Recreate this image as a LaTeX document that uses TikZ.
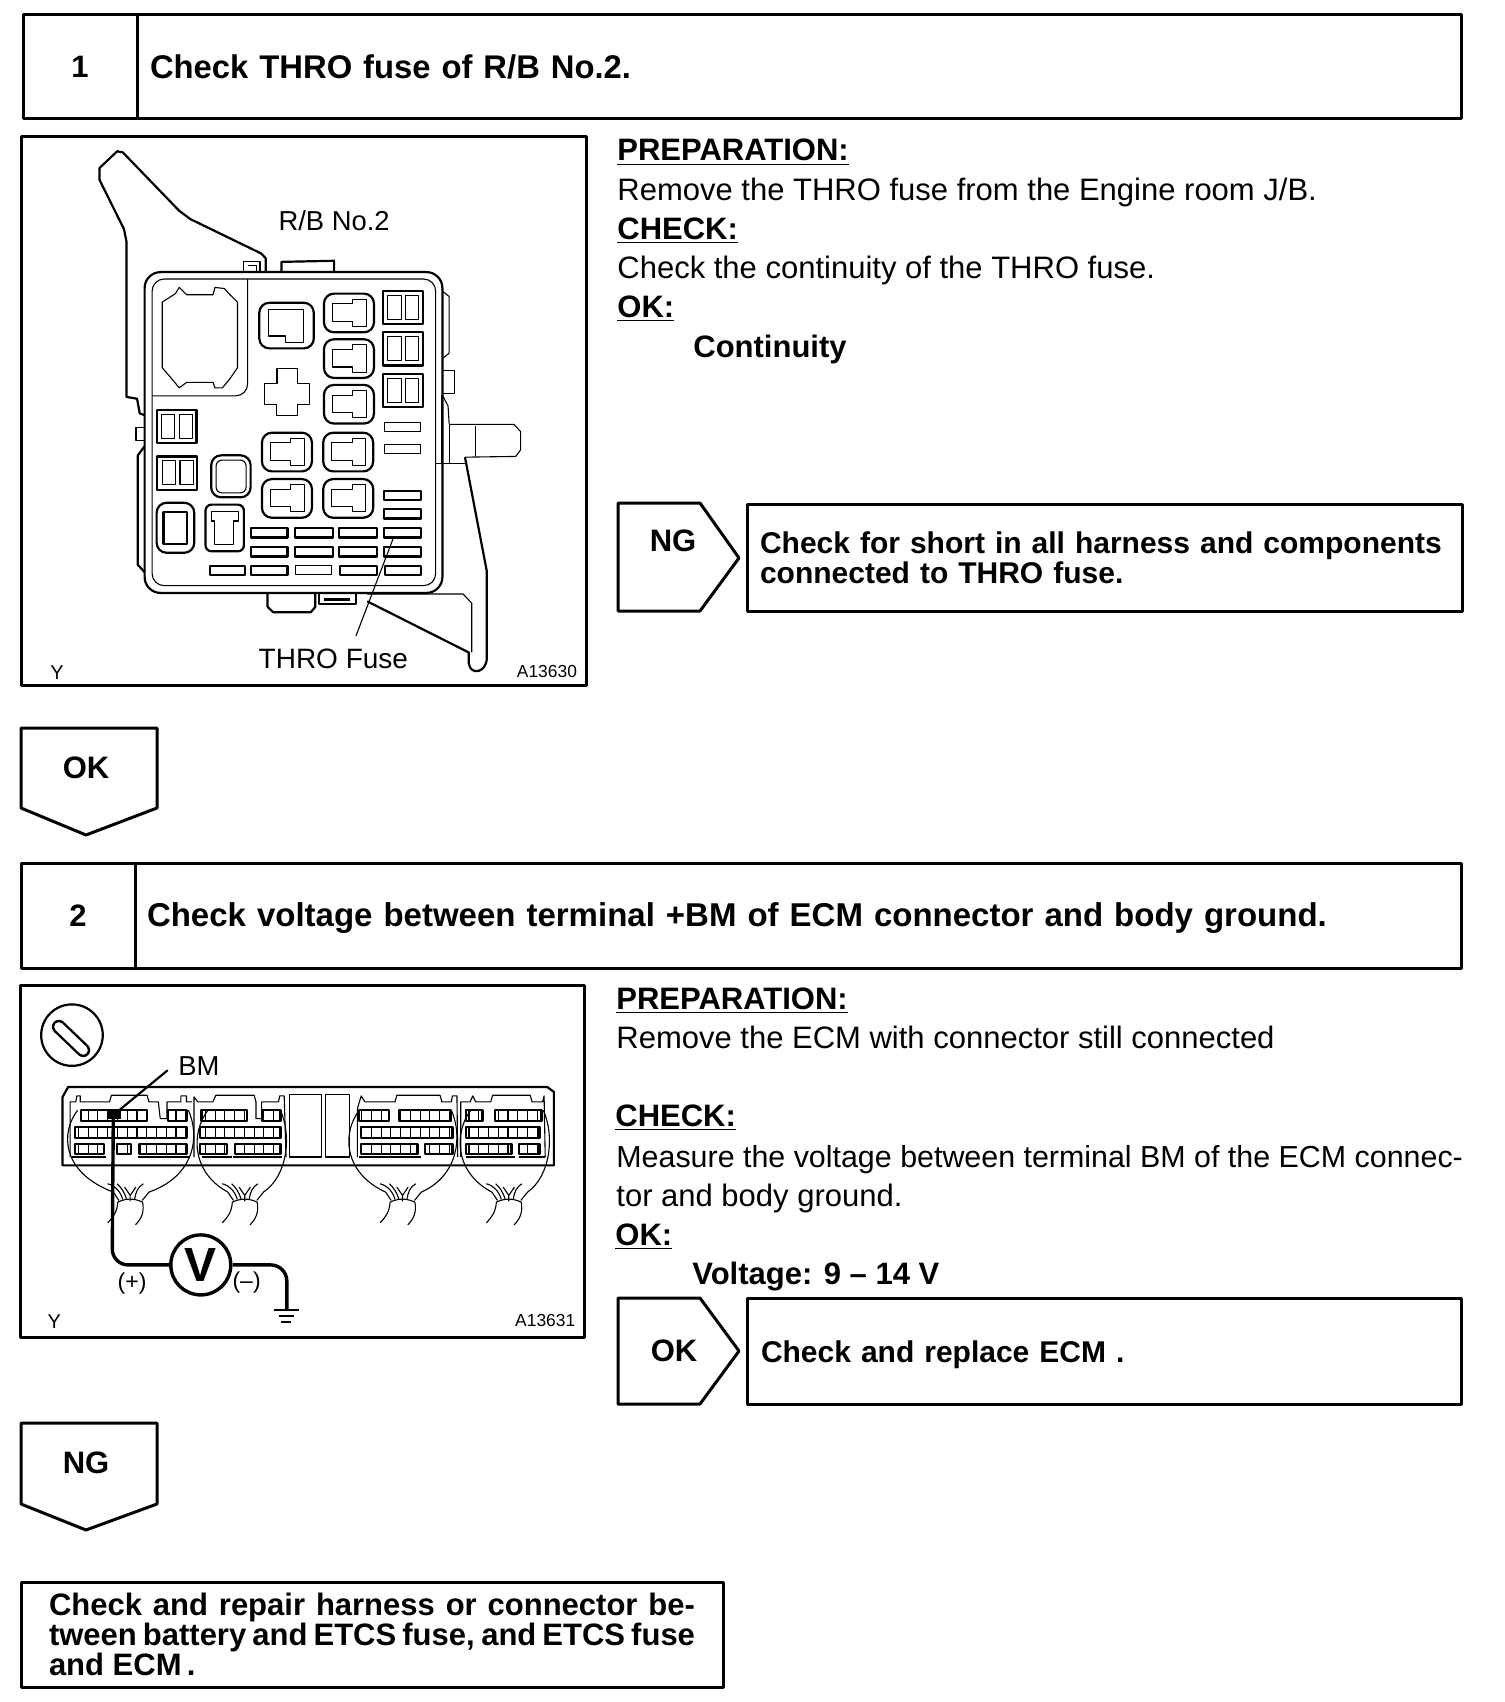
\documentclass[tikz,border=0pt]{standalone}
\usepackage{fontspec}
\setmainfont{Liberation Sans}
\usetikzlibrary{positioning,calc}
\tikzset{
  frm/.style={line width=1.5pt},
  hbox/.style={draw, line width=1.5pt, inner sep=0pt, outer sep=0pt, anchor=north west},
  title/.style={font=\fontsize{16.4}{15}\selectfont\bfseries, align=left},
  oneline/.style={text height=11.7pt, text depth=.5pt},
  rbold/.style={font=\fontsize{15.5}{15}\selectfont\bfseries},
  txt/.style={font=\fontsize{15.5}{15}\selectfont, anchor=base west, inner sep=0pt},
  btxt/.style={font=\fontsize{15.5}{15}\selectfont\bfseries, inner sep=0pt},
  head/.style={btxt, anchor=base west},
  lbl/.style={font=\fontsize{13.7}{14}\selectfont, inner sep=0pt},
  tiny/.style={font=\fontsize{8.7}{9}\selectfont, inner sep=0pt},
  ln/.style={line width=.55pt},
  hv/.style={line width=1.1pt},
  wire/.style={line width=1.7pt, rounded corners=8pt},
}
\newcommand{\hd}[1]{\underline{#1}}
\begin{document}
\begin{tikzpicture}[x=.5pt,y=-.5pt,line join=round]
\useasboundingbox (0,0) rectangle (1504,1702);

\node[hbox,minimum width=57pt,minimum height=52pt,btxt,anchor=north west] (num1) at (23,15) {1};
\node[hbox,title,oneline,right=0pt of num1,minimum height=52pt,inner xsep=6.5pt,text width=649pt] (tit1) {Check THRO fuse of R/B No.2.};

\draw[frm] (21,137) rectangle (586,685);
\node[head] (pre1) at (617,161) {\hd{PREPARATION:}};
\node[txt] (rem1) at (617,200) {Remove the THRO fuse from the Engine room J/B.};
\node[head] (chk1) at (617,239) {\hd{CHECK:}};
\node[txt] (con1) at (617,278) {Check the continuity of the THRO fuse.};
\node[head] (ok1) at (617,317) {\hd{OK:}};
\node[head] (val1) at (693,357) {Continuity};

\draw[frm] (618,503) -- (700,503) -- (739,558) -- (700,611) -- (618,611) -- cycle;
\node[btxt] (ng1) at (673,541) {NG};
\node[hbox,title,font=\fontsize{15}{15}\selectfont\bfseries,minimum height=53.5pt,inner xsep=6.5pt,text width=344.5pt] (res1) at (747,504) {\mbox{Check for short in all harness and components}\\connected to THRO fuse.};

\draw[frm] (21,728) -- (157,728) -- (157,808) -- (86,835) -- (21,808) -- cycle;
\node[btxt] (okd) at (86,768) {OK};

\node[hbox,minimum width=57pt,minimum height=52.5pt,btxt] (num2) at (21,863) {2};
\node[hbox,title,oneline,font=\fontsize{16.5}{15}\selectfont\bfseries,right=0pt of num2,minimum height=52.5pt,inner xsep=6pt,text width=651pt] (tit2) {Check voltage between terminal +BM of ECM connector and body ground.};

\draw[frm] (20,985) rectangle (584,1337);
\node[head] (pre2) at (616,1009) {\hd{PREPARATION:}};
\node[txt] (rem2) at (616,1048) {Remove the ECM with connector still connected};
\node[head] (chk2) at (615,1126) {\hd{CHECK:}};
\node[txt,font=\fontsize{15.2}{15}\selectfont] (mea2) at (616,1167) {Measure the voltage between terminal BM of the ECM connec-};
\node[txt] (tor2) at (616,1206) {tor and body ground.};
\node[head] (ok2) at (615,1245) {\hd{OK:}};
\node[head] (val2) at (692,1284) {Voltage: 9 -- 14 V};

\draw[frm] (618,1298) -- (700,1298) -- (739,1351) -- (700,1404) -- (618,1404) -- cycle;
\node[btxt] (okr) at (674,1351) {OK};
\node[hbox,title,oneline,font=\fontsize{15}{15}\selectfont\bfseries,minimum height=53pt,inner xsep=7pt,text width=343pt] (res2) at (747,1298) {Check and replace ECM .};

\draw[frm] (21,1423) -- (157,1423) -- (157,1504) -- (86,1530) -- (21,1504) -- cycle;
\node[btxt] (ngd) at (86,1463) {NG};

\node[hbox,title,rbold,minimum height=52.5pt,inner xsep=14pt,text width=323pt,align=justify] (res3) at (21,1582) {Check and repair harness or connector be-\linebreak tween battery and ETCS fuse, and ETCS fuse\linebreak and ECM\,.\par};

\begin{scope}[shift={(10,125)},xscale=.376,yscale=.365]
\draw[hv] (680,403) -- (680,365) -- (668,352) -- (480,258) -- (450,235) -- (300,75) -- (285,72) -- (238,118) -- (238,150) -- (303,285) -- (310,320) -- (310,745) -- (338,750) -- (345,790) -- (358,795);
\draw[ln] (620,403) -- (620,375) -- (665,375) -- (665,400) (632,385) -- (655,385) -- (655,400);
\draw[hv] (722,403) -- (722,375) -- (862,372) -- (862,403);
\draw[hv,rounded corners=8pt] (358,403) rectangle (1150,1282);
\draw[ln,rounded corners=6pt] (378,422) rectangle (1132,1262);
\draw[ln] (1150,455) -- (1168,470) -- (1168,625) -- (1150,640);
\draw[ln] (1150,672) -- (1182,672) -- (1182,735) -- (1150,735);
\draw[ln] (1150,740) -- (1165,770) -- (1168,820);
\draw[ln] (1168,820) -- (1340,820) -- (1358,840) -- (1358,890) -- (1345,908) -- (1210,910);
\draw[ln] (1238,825) -- (1238,908) (1168,820) -- (1168,928) (1132,928) -- (1212,928) (1148,740) -- (1148,928);
\draw[hv] (1210,910) -- (1268,1222) -- (1268,1460) .. controls (1268,1500) and (1225,1510) .. (1220,1475) -- (1220,1445) -- (950,1305);
\draw[ln] (950,1285) -- (1205,1285) -- (1228,1310) -- (1228,1445);
\draw[hv] (685,1285) -- (685,1320) -- (700,1335) -- (800,1335) -- (812,1320) -- (812,1285);
\draw[hv] (822,1285) -- (822,1312) -- (920,1312) -- (920,1285) (835,1300) -- (905,1300);
\draw[hv] (358,880) -- (340,905) -- (340,1205) -- (358,1225);
\draw[ln] (358,828) -- (335,828) -- (335,865) -- (358,865);
\draw[ln,rounded corners=6pt] (378,742) -- (632,742) -- (632,422);
\draw[ln] (405,485) -- (440,462) -- (450,445) -- (470,465) -- (540,465) -- (545,445) -- (570,448) -- (585,465) -- (605,485) -- (605,665) -- (585,695) -- (565,720) -- (545,720) -- (540,705) -- (470,705) -- (450,720) -- (430,695) -- (405,665) -- cycle;
\draw[ln] (710,668) -- (765,668) -- (765,708) -- (797,708) -- (797,765) -- (765,765) -- (765,797) -- (708,797) -- (708,765) -- (678,765) -- (678,708) -- (710,708) -- cycle;
\foreach \x/\y in {835/462,835/587,835/712,833/843,833/970,670/843,670/970}{
  \draw[hv,rounded corners=5pt] (\x,\y) rectangle +(133,106);
  \draw[ln] (\x+22,\y+28) -- (\x+77,\y+28) -- (\x+77,\y+15) -- (\x+113,\y+15) -- (\x+113,\y+90) -- (\x+77,\y+90) -- (\x+77,\y+76) -- (\x+22,\y+76) -- cycle;
}
\draw[hv,rounded corners=5pt] (663,487) rectangle (808,612);
\draw[ln] (688,505) -- (780,505) -- (780,595) -- (732,595) -- (732,578) -- (688,578) -- cycle;
\foreach \x/\y in {992/455,992/568,992/682,390/780,392/908}{
  \draw[hv] (\x,\y) rectangle +(106,91);
  \draw[ln] (\x+13,\y+12) rectangle +(35,66) (\x+60,\y+12) rectangle +(35,66);
}
\foreach \x/\y/\w in {642/1105/96,758/1105/102,875/1105/100,995/1105/97,642/1157/96,758/1157/100,875/1157/100,995/1157/97,532/1208/93,642/1208/96,877/1208/98,997/1208/95,995/1003/97,995/1053/97}{
  \draw[hv] (\x,\y) rectangle +(\w,25);
}
\foreach \x/\y in {760/1208,997/815,997/875}{
  \draw[ln] (\x,\y) rectangle +(95,24);
}
\draw[hv,rounded corners=5pt] (535,905) rectangle (640,1020);
\draw[ln,rounded corners=3pt] (548,918) rectangle (628,1008);
\draw[hv,rounded corners=5pt] (390,1035) rectangle (490,1172);
\draw[hv] (408,1060) rectangle (470,1148);
\draw[hv,rounded corners=3pt] (520,1040) rectangle (622,1168);
\draw[ln] (535,1058) -- (608,1058) -- (608,1085) -- (595,1085) -- (595,1150) -- (545,1150) -- (545,1085) -- (535,1085) -- cycle;
\node[lbl] (rb) at (862,263) {R/B No.2};
\node[lbl,font=\fontsize{14}{14}\selectfont] (thro) at (860,1462) {THRO Fuse};
\coordinate (fuse) at (1020,1130);
\draw[ln] (920,1400) -- (fuse);
\node[tiny,font=\fontsize{10}{10}\selectfont] (y1) at (125,1500) {Y};
\node[tiny] (a1) at (1428,1497) {A13630};
\end{scope}

\begin{scope}[shift={(10,975)},xscale=.3756,yscale=.334]
\draw[hv] (165,180) ellipse (82 and 92);
\draw[line width=7pt,line cap=round] (130,155) -- (195,225);
\draw[white,line width=4.6pt,line cap=round] (130,155) -- (195,225);
\draw[hv] (140,570) -- (140,365) -- (155,335) -- (1430,335) -- (1448,350) -- (1448,570) -- cycle;
\draw[ln] (160,545) -- (160,380) -- (175,380) -- (178,362) -- (187,362) -- (187,380) -- (265,380) -- (270,360) -- (365,360) -- (370,380) -- (395,380) -- (400,430) -- (418,430) -- (418,380) -- (455,380) -- (455,362) -- (470,362) -- (470,380) -- (485,380);
\draw[ln] (490,545) -- (490,365) -- (500,380) -- (540,380) -- (548,360) -- (650,360) -- (655,380) -- (655,430) -- (670,430) -- (670,380) -- (715,380) -- (718,362) -- (730,362) -- (735,545);
\draw[ln] (925,545) -- (925,400) -- (935,362) -- (945,380) -- (1025,380) -- (1030,360) -- (1145,360) -- (1150,380) -- (1175,380) -- (1178,362) -- (1190,362) -- (1192,545);
\draw[ln] (1200,545) -- (1200,380) -- (1225,380) -- (1232,362) -- (1240,380) -- (1280,380) -- (1285,360) -- (1385,360) -- (1390,380) -- (1418,380) -- (1422,362) -- (1425,545);
\draw[ln] (745,358) rectangle (830,545) (840,358) rectangle (905,545);
\foreach \a/\b/\r in {190/365/405,420/470/405,172/470/455,172/250/505,285/322/505,345/470/505,
  510/630/405,670/720/405,505/720/455,505/578/505,600/720/505,
  930/1010/405,1035/1175/405,935/1178/455,935/1085/505,1105/1178/505,
  1215/1258/405,1292/1415/405,1215/1410/455,1215/1335/505,1355/1410/505}{
  \draw[hv] (\a,\r) rectangle (\b,\r+32);
  \draw[ln,xstep=26,ystep=1000] (\a,\r) grid (\b,\r+32);
}
\foreach \a/\b in {165/255,340/480,510/590,595/725,930/1095,1215/1345,1355/1425}{
  \draw[hv] (\a,546) -- (\b,546);
}
\foreach \l/\r/\c in {150/490/320,497/735/625,900/1190/1045,1197/1435/1328}{
  \draw[ln] (\l+30,405) .. controls (\l-15,470) and (\l-15,590) .. (\c-45,650) -- (\c-30,675);
  \draw[ln] (\r-15,405) .. controls (\r+15,480) and (\r+5,600) .. (\c+50,650) -- (\c+32,675);
  \draw[ln] (\c-15,635) -- (\c,660) -- (\c+15,635) (\c,660) -- (\c,678);
  \draw[ln] (\c-60,625) .. controls (\c-40,630) and (\c-25,650) .. (\c-20,672);
  \draw[ln] (\c-35,625) .. controls (\c-25,635) and (\c-15,650) .. (\c-10,670);
  \draw[ln] (\c+35,625) .. controls (\c+20,635) and (\c+15,650) .. (\c+12,670);
  \draw[ln] (\c-33,680) .. controls (\c-10,668) and (\c+10,668) .. (\c+33,680);
  \draw[ln] (\c-33,680) .. controls (\c-35,710) and (\c-45,725) .. (\c-60,742);
  \draw[ln] (\c+33,680) .. controls (\c+38,710) and (\c+30,730) .. (\c+14,748);
}
\fill (258,400) rectangle (296,432);
\node[lbl] (bm) at (503,272) {BM};
\coordinate (bmpin) at (285,410);
\draw[hv] (420,285) -- (bmpin);
\node[draw,circle,line width=1.7pt,minimum size=30pt,inner sep=0pt,font=\fontsize{24}{24}\selectfont\bfseries] (vm) at (508,868) {V};
\draw[wire] (275,430) -- (272,868) -- (vm.west);
\coordinate (gnd) at (737,1004);
\draw[wire] (vm.east) -- (737,868) -- (gnd);
\draw[hv] (703,1004) -- (770,1004) (715,1022) -- (755,1022) (722,1040) -- (748,1040);
\node[tiny,font=\fontsize{11.5}{12}\selectfont] (plus) at (325,925) {(+)};
\node[tiny,font=\fontsize{11.5}{12}\selectfont] (minus) at (630,920) {(--)};
\node[tiny,font=\fontsize{10}{10}\selectfont] (y2) at (118,1037) {Y};
\node[tiny] (a2) at (1425,1035) {A13631};
\end{scope}
\end{tikzpicture}
\end{document}
